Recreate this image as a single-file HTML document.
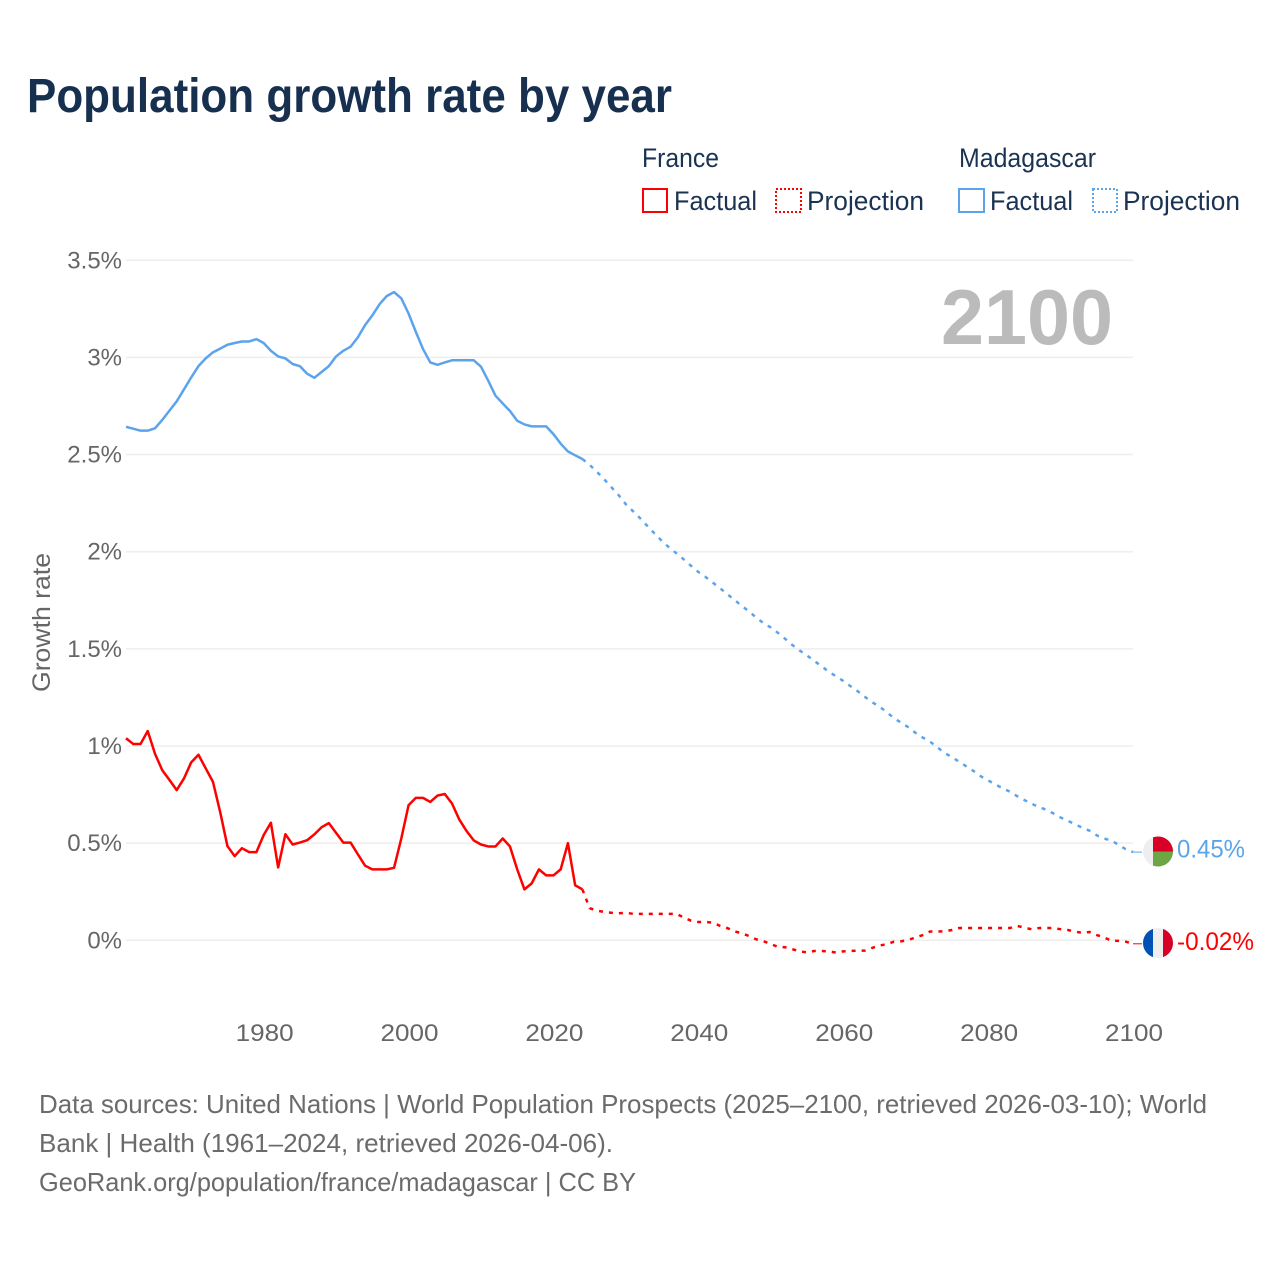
<!DOCTYPE html>
<html lang="en">
<head>
<meta charset="utf-8">
<title>Population growth rate by year</title>
<style>
  html, body { margin: 0; padding: 0; background: #fff; }
  svg { display: block; font-family: "Liberation Sans", sans-serif; }
</style>
</head>
<body>
<svg id="chart" xmlns="http://www.w3.org/2000/svg" width="1280" height="1280" viewBox="0 0 1280 1280">
  <rect x="0" y="0" width="1280" height="1280" fill="#ffffff"/>
  <text x="27" y="112" font-size="48" font-weight="bold" fill="#17304f" textLength="645" lengthAdjust="spacingAndGlyphs">Population growth rate by year</text>

  <g font-size="26.5" fill="#1b3352">
    <text x="642" y="167" textLength="77" lengthAdjust="spacingAndGlyphs">France</text>
    <rect x="643" y="189" width="24" height="23" fill="none" stroke="#ff0000" stroke-width="2"/>
    <text x="674" y="210" textLength="83" lengthAdjust="spacingAndGlyphs">Factual</text>
    <rect x="776" y="189" width="25" height="23" fill="none" stroke="#ff0000" stroke-width="2" stroke-dasharray="2 2"/>
    <text x="807" y="210" textLength="117" lengthAdjust="spacingAndGlyphs">Projection</text>
    <text x="959" y="167" textLength="137" lengthAdjust="spacingAndGlyphs">Madagascar</text>
    <rect x="959" y="189" width="25" height="23" fill="none" stroke="#5ba4ec" stroke-width="2"/>
    <text x="990" y="210" textLength="83" lengthAdjust="spacingAndGlyphs">Factual</text>
    <rect x="1093" y="189" width="24" height="23" fill="none" stroke="#5ba4ec" stroke-width="2" stroke-dasharray="2 2"/>
    <text x="1123" y="210" textLength="117" lengthAdjust="spacingAndGlyphs">Projection</text>
  </g>

  <g id="grid"></g>
  <g id="yticks" font-size="24" fill="#666666" text-anchor="end"></g>
  <g id="xticks" font-size="24" fill="#666666" text-anchor="middle"></g>
  <text transform="translate(50,692) rotate(-90)" font-size="25" fill="#666666" textLength="139" lengthAdjust="spacingAndGlyphs">Growth rate</text>
  <text x="1113" y="344" font-size="78" font-weight="bold" fill="#bbbbbb" text-anchor="end" textLength="172" lengthAdjust="spacingAndGlyphs">2100</text>

  <g id="series"></g>

  <g id="flag-madagascar">
    <circle cx="0" cy="0" r="15" fill="#eeeeee"/>
    <path d="M-5,-14.14 A15,15 0 0 1 15,0 L-5,0 Z" fill="#d80027"/>
    <path d="M-5,0 L15,0 A15,15 0 0 1 -5,14.14 Z" fill="#6da544"/>
  </g>
  <g id="flag-france">
    <circle cx="0" cy="0" r="15" fill="#eeeeee"/>
    <path d="M-5,-14.14 A15,15 0 0 0 -5,14.14 Z" fill="#0052b4"/>
    <path d="M5,-14.14 A15,15 0 0 1 5,14.14 Z" fill="#d80027"/>
  </g>
  <text id="label-madagascar" x="1177" font-size="25" fill="#5ba4ec" textLength="68" lengthAdjust="spacingAndGlyphs"></text>
  <text id="label-france" x="1177" font-size="25" fill="#ff0000" textLength="77" lengthAdjust="spacingAndGlyphs"></text>

  <g font-size="26" fill="#6b6b6b">
    <text x="39" y="1113" textLength="1168" lengthAdjust="spacingAndGlyphs">Data sources: United Nations | World Population Prospects (2025–2100, retrieved 2026-03-10); World</text>
    <text x="39" y="1152" textLength="574" lengthAdjust="spacingAndGlyphs">Bank | Health (1961–2024, retrieved 2026-04-06).</text>
    <text x="39" y="1191" textLength="597" lengthAdjust="spacingAndGlyphs">GeoRank.org/population/france/madagascar | CC BY</text>
  </g>
</svg>
<script>
const factualYears = [1961,1962,1963,1964,1965,1966,1967,1968,1969,1970,1971,1972,1973,1974,1975,1976,1977,1978,1979,1980,1981,1982,1983,1984,1985,1986,1987,1988,1989,1990,1991,1992,1993,1994,1995,1996,1997,1998,1999,2000,2001,2002,2003,2004,2005,2006,2007,2008,2009,2010,2011,2012,2013,2014,2015,2016,2017,2018,2019,2020,2021,2022,2023,2024];
const projectionYears = [2024,2025,2026,2027,2028,2029,2030,2031,2032,2033,2034,2035,2036,2037,2038,2039,2040,2041,2042,2043,2044,2045,2046,2047,2048,2049,2050,2051,2052,2053,2054,2055,2056,2057,2058,2059,2060,2061,2062,2063,2064,2065,2066,2067,2068,2069,2070,2071,2072,2073,2074,2075,2076,2077,2078,2079,2080,2081,2082,2083,2084,2085,2086,2087,2088,2089,2090,2091,2092,2093,2094,2095,2096,2097,2098,2099,2100];
const franceFactual = [1.04,1.01,1.01,1.077,0.96,0.876,0.825,0.773,0.833,0.916,0.955,0.885,0.816,0.66,0.485,0.433,0.474,0.454,0.454,0.541,0.605,0.375,0.546,0.493,0.503,0.515,0.545,0.582,0.603,0.553,0.503,0.503,0.443,0.384,0.365,0.365,0.365,0.373,0.524,0.695,0.733,0.733,0.712,0.745,0.753,0.704,0.622,0.563,0.514,0.493,0.483,0.483,0.524,0.483,0.365,0.262,0.293,0.365,0.334,0.334,0.365,0.5,0.283,0.262];
const franceProjection = [0.262,0.165,0.153,0.146,0.142,0.139,0.142,0.136,0.136,0.136,0.136,0.136,0.136,0.136,0.117,0.101,0.094,0.094,0.091,0.074,0.063,0.046,0.036,0.022,0.005,-0.005,-0.019,-0.034,-0.036,-0.046,-0.057,-0.062,-0.055,-0.055,-0.057,-0.063,-0.057,-0.055,-0.053,-0.053,-0.039,-0.027,-0.02,-0.007,-0.005,0.002,0.015,0.027,0.045,0.045,0.046,0.053,0.063,0.063,0.063,0.063,0.063,0.063,0.063,0.063,0.074,0.065,0.057,0.063,0.063,0.063,0.057,0.053,0.045,0.038,0.043,0.027,0.015,-0.002,-0.003,-0.007,-0.018];
const madagascarFactual = [2.643,2.633,2.623,2.623,2.635,2.678,2.726,2.774,2.835,2.897,2.955,2.995,3.026,3.045,3.065,3.074,3.082,3.082,3.094,3.074,3.034,3.005,2.995,2.966,2.955,2.916,2.895,2.925,2.955,3.005,3.034,3.055,3.103,3.166,3.216,3.274,3.316,3.336,3.304,3.226,3.132,3.043,2.974,2.962,2.974,2.985,2.985,2.985,2.985,2.952,2.88,2.803,2.763,2.724,2.674,2.655,2.645,2.645,2.645,2.605,2.556,2.516,2.496,2.477];
const madagascarProjection = [2.477,2.447,2.411,2.373,2.332,2.291,2.244,2.208,2.171,2.131,2.092,2.054,2.021,1.991,1.96,1.927,1.896,1.87,1.841,1.812,1.781,1.752,1.721,1.692,1.661,1.632,1.61,1.582,1.551,1.519,1.491,1.466,1.438,1.411,1.382,1.359,1.335,1.308,1.282,1.253,1.225,1.203,1.174,1.144,1.12,1.096,1.067,1.043,1.022,0.993,0.964,0.943,0.919,0.895,0.871,0.844,0.823,0.802,0.783,0.765,0.742,0.722,0.703,0.686,0.672,0.653,0.632,0.615,0.598,0.579,0.564,0.54,0.524,0.514,0.491,0.469,0.454];
const yTickValues = [0,0.5,1,1.5,2,2.5,3,3.5];
const yTickLabels = ["0%","0.5%","1%","1.5%","2%","2.5%","3%","3.5%"];
const xTickValues = [1980,2000,2020,2040,2060,2080,2100];
const xTickLabels = ["1980","2000","2020","2040","2060","2080","2100"];
const endLabelFrance = "-0.02%";
const endLabelMadagascar = "0.45%";

const NS = "http://www.w3.org/2000/svg";
function xScale(year) { return 126 + (year - 1961) * (1133 - 126) / (2100 - 1961); }
function yScale(value) { return 940.3 - value * 194.3; }

const gridGroup = document.getElementById("grid");
const yTickGroup = document.getElementById("yticks");
const xTickGroup = document.getElementById("xticks");
const seriesGroup = document.getElementById("series");

yTickValues.forEach(function (v, i) {
  const line = document.createElementNS(NS, "line");
  
  
  line.setAttribute("x1", xScale(1961));
  line.setAttribute("x2", xScale(2100));
  line.setAttribute("y1", yScale(v));
  line.setAttribute("y2", yScale(v));
  line.setAttribute("stroke", "#eeeeee");
  line.setAttribute("stroke-width", "1.5");
  gridGroup.appendChild(line);

  const label = document.createElementNS(NS, "text");
  
  
  label.setAttribute("x", 122);
  label.setAttribute("y", yScale(v) + 8);
  label.textContent = yTickLabels[i];
  yTickGroup.appendChild(label);
});

xTickValues.forEach(function (year, i) {
  const label = document.createElementNS(NS, "text");
  
  
  label.setAttribute("x", xScale(year) + 1);
  label.setAttribute("y", 1041);
  label.setAttribute("textLength", "58");
  label.setAttribute("lengthAdjust", "spacingAndGlyphs");
  label.textContent = xTickLabels[i];
  xTickGroup.appendChild(label);
});

function pathFrom(years, values) {
  return years.map(function (year, i) {
    return (i ? "L" : "M") + xScale(year).toFixed(2) + "," + yScale(values[i]).toFixed(2);
  }).join(" ");
}

function addPath(name, years, values, color, dash) {
  const path = document.createElementNS(NS, "path");
  
  
  path.setAttribute("d", pathFrom(years, values));
  path.setAttribute("fill", "none");
  path.setAttribute("stroke", color);
  path.setAttribute("stroke-width", "2.5");
  path.setAttribute("stroke-linejoin", "round");
  if (dash) path.setAttribute("stroke-dasharray", dash);
  seriesGroup.appendChild(path);
}

addPath("madagascar-factual-line", factualYears, madagascarFactual, "#5ba4ec", "");
addPath("madagascar-projection-line", projectionYears, madagascarProjection, "#5ba4ec", "4 6");
addPath("france-factual-line", factualYears, franceFactual, "#ff0000", "");
addPath("france-projection-line", projectionYears, franceProjection, "#ff0000", "4 6");

function addConnector(name, value, color) {
  const line = document.createElementNS(NS, "line");
  
  
  line.setAttribute("x1", xScale(2100));
  line.setAttribute("x2", 1142);
  line.setAttribute("y1", yScale(value));
  line.setAttribute("y2", yScale(value));
  line.setAttribute("stroke", color);
  line.setAttribute("stroke-width", "1");
  seriesGroup.appendChild(line);
}
const lastMadagascar = madagascarProjection[madagascarProjection.length - 1];
const lastFrance = franceProjection[franceProjection.length - 1];
addConnector("madagascar-end-connector", lastMadagascar, "#5ba4ec");
addConnector("france-end-connector", lastFrance, "#ff0000");

document.getElementById("flag-madagascar").setAttribute("transform", "translate(1158," + (yScale(lastMadagascar) - 0.6) + ")");
document.getElementById("flag-france").setAttribute("transform", "translate(1158," + (yScale(lastFrance) - 0.8) + ")");
const labelM = document.getElementById("label-madagascar");
labelM.setAttribute("y", yScale(lastMadagascar) + 5.5);
labelM.textContent = endLabelMadagascar;
const labelF = document.getElementById("label-france");
labelF.setAttribute("y", yScale(lastFrance) + 6);
labelF.textContent = endLabelFrance;
</script>
</body>
</html>
